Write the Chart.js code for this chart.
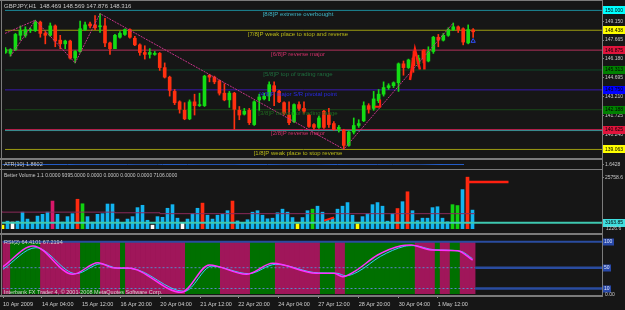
<!DOCTYPE html>
<html>
<head>
<meta charset="utf-8">
<title>GBPJPY,H1</title>
<script src="https://cdn.jsdelivr.net/npm/chart.js@4.4.1/dist/chart.umd.min.js"></script>
<style>
  body { margin:0; width:625px; height:310px; background:#161616; position:relative; overflow:hidden; }
  canvas { position:absolute; left:0; }
  .sep { position:absolute; background:#7b7b7b; }
</style>
</head>
<body>
<canvas id="priceChart" width="625" height="158" style="top:0px"></canvas>
<canvas id="atrChart" width="625" height="9" style="top:160px"></canvas>
<canvas id="volumeChart" width="625" height="63" style="top:170px"></canvas>
<canvas id="rsiChart" width="625" height="75" style="top:235px"></canvas>
<div class="sep" style="left:0;top:0;width:603px;height:1px"></div>
<div class="sep" style="left:1px;top:0;width:1px;height:297px"></div>
<div class="sep" style="left:602px;top:0;width:1px;height:297px"></div>
<div class="sep" style="left:0;top:158px;width:603px;height:2px"></div>
<div class="sep" style="left:0;top:169px;width:603px;height:1px"></div>
<div class="sep" style="left:0;top:233px;width:603px;height:2px"></div>
<div class="sep" style="left:0;top:295px;width:603px;height:2px"></div>
<script>
// ---- candles, one per slot ----
const priceOpen = [146.69,146.62,146.92,148.04,148.04,148.41,148.41,149.08,148.19,148.04,
  148.78,147.66,147.37,147.59,146.25,146.77,148.49,148.93,148.86,148.71,
  148.78,147.44,146.99,147.89,148.11,148.49,147.81,147.29,146.69,146.54,
  146.54,146.62,145.50,144.75,143.63,142.81,142.14,141.47,142.81,142.51,
  142.51,144.90,144.75,144.46,143.49,142.96,143.49,142.14,141.84,142.14,
  141.02,142.96,143.04,143.26,144.08,143.63,142.74,141.77,141.25,142.59,
  142.29,141.77,141.02,140.80,142.07,141.77,141.10,140.65,140.57,139.38,
  140.43,140.95,141.32,142.51,142.29,142.89,143.41,143.93,144.08,144.31,
  145.80,145.50,146.25,145.80,146.84,146.02,146.77,147.89,147.66,148.04,
  148.49,148.71,148.56,147.44,148.469];
const priceClose = [146.92,146.92,148.11,148.41,148.49,148.49,149.08,148.19,148.04,148.78,
  147.59,147.37,147.59,146.25,146.77,148.56,148.86,148.78,148.63,148.78,
  147.44,146.99,148.04,148.19,148.49,147.89,147.29,146.69,146.54,146.69,
  146.62,145.50,144.75,143.71,142.74,142.22,141.47,142.81,142.51,142.59,
  144.83,144.75,144.38,143.49,142.96,143.49,142.22,141.77,142.07,141.17,
  142.81,143.19,143.26,144.16,143.63,142.81,141.92,141.17,142.59,142.29,
  142.07,140.87,140.80,141.54,140.80,141.02,140.65,140.80,139.38,140.43,
  140.95,141.10,142.51,142.22,143.04,143.41,143.93,144.08,144.31,145.80,
  145.50,146.10,145.65,146.25,146.17,146.77,147.89,147.66,148.04,148.49,
  148.71,148.49,147.51,148.49,148.316];
const priceHigh = [147.07,146.99,148.19,148.78,148.71,148.63,149.23,149.16,148.34,149.01,
  148.86,148.04,147.66,147.66,146.84,149.16,149.08,149.08,149.60,149.75,
  149.38,147.51,148.11,148.34,148.56,148.56,147.96,147.37,147.22,146.99,
  146.77,146.69,145.87,144.83,143.78,142.89,142.74,142.96,143.41,143.49,
  144.90,144.98,144.83,144.53,144.23,143.63,143.56,142.44,142.29,142.29,
  142.89,143.41,143.49,144.38,144.38,143.71,142.81,142.81,142.66,142.81,
  142.81,141.84,141.10,141.69,142.14,142.29,141.25,140.95,140.65,140.50,
  141.54,141.40,142.81,142.66,143.63,143.78,144.38,144.23,144.38,145.87,
  146.02,146.17,146.77,146.47,146.92,147.14,147.96,148.11,148.19,148.63,
  149.01,148.78,148.63,148.86,148.569];
const priceLow = [146.62,146.40,146.84,147.66,147.89,148.26,148.34,147.89,147.37,147.96,
  147.14,146.99,146.99,146.17,145.87,146.69,148.41,148.63,148.49,148.26,
  147.14,146.54,146.99,147.81,148.04,147.81,147.22,146.47,146.17,146.25,
  146.47,145.28,144.68,143.26,142.59,141.92,141.40,141.40,141.77,142.44,
  142.44,144.38,144.23,143.34,142.89,142.37,140.65,141.40,141.77,141.02,
  140.95,142.14,142.96,142.89,142.51,142.74,141.77,141.02,141.17,142.14,
  141.92,140.80,140.65,140.72,140.72,140.80,140.57,140.43,139.08,139.31,
  140.28,140.80,141.25,141.92,142.14,142.74,143.26,143.78,143.93,143.63,
  144.90,145.43,145.13,145.57,145.87,145.95,146.62,147.14,147.59,147.96,
  148.41,148.26,147.29,147.37,147.876];

const chartTitle = 'GBPJPY,H1  148.469 148.569 147.876 148.316';
const priceTicks = [149.150, 147.665, 146.180, 144.695, 143.210, 141.725, 140.240];

// murrey math levels
const murreyLevels = [150.000, 148.438, 146.875, 145.313, 143.750, 142.188, 140.625, 139.063];
const murreyNames = ['[8/8]P extreme overbought', '[7/8]P weak place to stop and reverse',
  '[6/8]P reverse major', '[5/8]P top of trading range', '[4/8]P major S/R pivotal point',
  '[3/8]P bottom of trading range', '[2/8]P reverse major', '[1/8]P weak place to stop reverse'];
const murreyLineColor = ['#1c8a9a','#9c9c10','#b0305a','#0e4a2a','#3a1ab0','#1a4a1a','#c02050','#9c9c10'];
const murreyTextColor = ['#3fb4c4','#b8b818','#d0306a','#1e6e3e','#2a2ae8','#1f6a1f','#d0306a','#b8b818'];
const murreyBoxColor = ['#00ffff','#ffff00','#e0143c','#008000','#0000ff','#008000','#e0143c','#ffff00'];

// zigzag turning points
const zigzagX = [1, 6, 14, 19, 68, 90];
const zigzagY = [146.40, 149.23, 145.87, 149.75, 139.08, 149.01];
const zigLeadX = [-0.1, 6];
const zigLeadY = [148.19, 149.23];

// red drawn marks
const markAX = [81.3, 82.3, 83.3];
const markAY = [144.53, 146.92, 145.35];
const markBX = [84.2, 84.2];
const markBY = [146.92, 145.35];
const markCX = [74.2, 75.3, 75.3];
const markCY = [142.42, 142.42, 142.99];

// ATR(10)
const atrX = [0, 8.3, 13, 14.7, 25, 26.7, 31, 32, 37, 39.7, 46.3, 47.7, 53, 56.3, 62.7, 67, 69.7, 75, 78, 83.7, 88.3, 92.3];
const atrY = [1.72, 1.64, 1.64, 1.78, 1.78, 1.86, 1.86, 1.72, 1.72, 1.78, 1.78, 1.70, 1.70, 1.83, 1.83, 1.70, 1.78, 1.78, 1.83, 1.91, 1.64, 1.64];

// Better Volume
const volume = [1926,3898,3450,3898,8378,4928,3136,6406,7302,8378,
  13888,7302,3450,6138,7616,14784,12544,6138,3450,7302,
  7616,12410,12410,4928,3136,4928,6138,10618,11782,4346,
  1926,6138,5824,10304,12096,5376,3136,4928,7616,10304,
  12858,6854,4928,6854,7302,9094,13888,4032,3136,4614,
  8378,9094,6854,5062,5376,8064,9856,8378,5690,2688,
  5690,9094,9856,11334,8378,4614,5376,9856,11334,13126,
  6854,2688,6138,7616,12096,13126,11334,3898,7616,10170,
  13574,18502,9094,4166,5376,5376,10618,11066,5376,3584,
  12096,11648,19578,25758.6,9395];
const volRed = [15, 40, 46, 79, 81, 93];
const volGreen = [16, 62, 90, 91];
const volWhite = [2, 30, 36];
const volYellow = [0, 59, 71];
const volMagenta = [10];
const volMaX = [-0.1, 22.5, 31.5, 61.5, 94.5];
const volMaY = [8830, 8380, 8060, 7620, 7620];
const volLevel = 3163.85;
const climaxX = [93, 101.2];
const climaxY = [23296, 23296];
const volMarkX = [64.3, 66.3];
const volMarkY = [4166, 5690];

// RSI(2)
const rsiZonesGreen = [[2,7],[16,19],[24,24],[37,43],[50,54],[64,66],[69,82],[87,87],[90,91]];
const rsiMainX = [0, 6, 14, 19, 22.3, 25, 35.7, 41.3, 48.7, 54, 62.7, 66.3, 68, 70.3, 75, 79.7, 81.7, 85.7, 91, 94];
const rsiMainY = [51.9, 91.7, 37.3, 59.6, 49.4, 49.4, 2.7, 55.2, 37.3, 58.5, 39.2, 39.2, 32.7, 42.3, 74.4, 92.3, 93.7, 84.0, 82.7, 64.4];
const rsiSignalX = [0, 6.6, 14.6, 19.6, 23, 25.6, 36.3, 41.8, 49.2, 54.6, 63.2, 66.8, 68.6, 71, 75.6, 80.3, 82.2, 86.3, 91.5, 94];
const rsiSignalY = [47, 88.5, 38.5, 57.5, 49.0, 48.5, 4.5, 53, 38.5, 56.5, 40, 39.5, 34.5, 42, 72, 91, 92.5, 84.5, 82, 67.2];
const rsiLevels = [100, 50, 10];

const timeTickX = [0, 7.8, 15.8, 23.5, 31.5, 39.5, 47.1, 55.1, 63.1, 71.2, 79.2, 87.0];
const timeLabels = ['10 Apr 2009','14 Apr 04:00','15 Apr 12:00','16 Apr 20:00','20 Apr 04:00','21 Apr 12:00',
  '22 Apr 20:00','24 Apr 04:00','27 Apr 12:00','28 Apr 20:00','30 Apr 04:00','1 May 12:00'];

// ---------------------------------------------------------------
const X_MIN = -0.1, X_MAX = 119.9;
const BULL = '#14dc14', BEAR = '#ff3010';
const FONT = '"Liberation Sans", Arial, sans-serif';
Chart.defaults.font.family = FONT;

function xy(xs, ys) { return xs.map((x, i) => ({x: x, y: ys[i]})); }
function flat(v, x0, x1) { return [{x: x0, y: v}, {x: x1, y: v}]; }
function lineSet(data, color, width, order, extra) {
  return Object.assign({type: 'line', data: data, borderColor: color, borderWidth: width,
    pointRadius: 0, tension: 0, fill: false, order: order}, extra || {});
}
function rightAxis(min, max, tickVals, fmt) {
  return {
    position: 'right', min: min, max: max,
    afterFit: s => { s.width = 23; },
    afterBuildTicks: s => { s.ticks = tickVals.map(v => ({value: v})); },
    ticks: { display: tickVals.length > 0, color: '#c8c8c8', font: {size: 5}, padding: 1, callback: fmt },
    grid: { drawOnChartArea: false, color: '#7b7b7b', tickLength: 2 },
    border: { display: false }
  };
}
function baseOptions(yAxis, pad) {
  return {
    responsive: false, animation: false, devicePixelRatio: 1,
    layout: { padding: pad },
    plugins: { legend: {display: false}, tooltip: {enabled: false} },
    scales: {
      x: { type: 'linear', min: X_MIN, max: X_MAX, offset: false, display: false },
      y: yAxis
    }
  };
}

// price panel
const slots = priceOpen.map((_, i) => i);
const candleColor = slots.map(i => priceClose[i] >= priceOpen[i] ? BULL : BEAR);

const priceText = {
  id: 'priceText',
  afterDatasetsDraw(chart) {
    const ctx = chart.ctx, y = chart.scales.y;
    ctx.save();
    ctx.textBaseline = 'middle';
    ctx.font = '6px ' + FONT;
    ctx.textAlign = 'left';
    ctx.fillStyle = '#c8c8c8';
    ctx.fillText(chartTitle, 4, 6);
    murreyLevels.forEach((lv, i) => {
      const py = y.getPixelForValue(lv);
      ctx.font = '6px ' + FONT;
      ctx.textAlign = 'center';
      ctx.fillStyle = murreyTextColor[i];
      ctx.fillText(murreyNames[i], 298, Math.min(py + 4, 155.5));
      ctx.fillStyle = murreyBoxColor[i];
      ctx.fillRect(603, Math.round(py) - 4, 22, 8);
      ctx.font = '5px ' + FONT;
      ctx.textAlign = 'left';
      ctx.fillStyle = '#000';
      ctx.fillText(lv.toFixed(3), 605, py);
    });
    ctx.restore();
  }
};

const priceDatasets = murreyLevels.map((lv, i) => lineSet(flat(lv, X_MIN, X_MAX), murreyLineColor[i], 1, 20));
priceDatasets.push(lineSet(flat(140.55, X_MIN, X_MAX), '#2e9c9c', 1, 20));
priceDatasets.push({ type: 'bar', data: slots.map(i => ({x: i, y: [priceLow[i], priceHigh[i]]})),
  backgroundColor: candleColor, barThickness: 1, grouped: false, order: 12 });
priceDatasets.push({ type: 'bar', data: slots.map(i => ({x: i, y: [priceOpen[i], priceClose[i]]})),
  backgroundColor: candleColor, barThickness: 3, grouped: false, minBarLength: 1, order: 11 });
priceDatasets.push(lineSet(xy(zigzagX, zigzagY), '#c8348a', 1, 5, {borderDash: [2, 1]}));
priceDatasets.push(lineSet(xy(zigLeadX, zigLeadY), '#c8348a', 1, 5, {borderDash: [2, 1]}));
priceDatasets.push(lineSet(xy(markAX, markAY), '#ff2010', 2.5, 2));
priceDatasets.push(lineSet(xy(markBX, markBY), '#ff2010', 2.5, 2));
priceDatasets.push(lineSet(xy(markCX, markCY), '#ff2010', 2, 2));
priceDatasets.push({ type: 'line', data: [{x: 94, y: 147.59}], showLine: false, pointStyle: 'triangle',
  pointRadius: 2.5, pointBorderColor: '#3050ff', pointBackgroundColor: 'rgba(0,0,0,0)', pointBorderWidth: 1, order: 1 });

new Chart(document.getElementById('priceChart'), {
  type: 'bar',
  data: { datasets: priceDatasets },
  options: baseOptions(rightAxis(138.784, 150.425, priceTicks, v => v.toFixed(3)), {left: 2, top: 1, bottom: 1, right: 0}),
  plugins: [priceText]
});

// ATR panel
const atrText = {
  id: 'atrText',
  afterDatasetsDraw(chart) {
    const ctx = chart.ctx;
    ctx.save();
    ctx.font = '5.5px ' + FONT;
    ctx.textBaseline = 'middle';
    ctx.fillStyle = '#c8c8c8';
    ctx.fillText('ATR(10) 1.8602', 4, 4.5);
    ctx.restore();
  }
};
new Chart(document.getElementById('atrChart'), {
  type: 'line',
  data: { datasets: [lineSet(xy(atrX, atrY), '#2460d0', 1, 1)] },
  options: baseOptions(rightAxis(1.3228, 2.0428, [1.6428], v => v.toFixed(4)), {left: 2, top: 0, bottom: 0, right: 0}),
  plugins: [atrText]
});

// volume panel
const volColor = volume.map((v, i) =>
  volRed.includes(i) ? '#ff2a10' :
  volGreen.includes(i) ? '#10d010' :
  volWhite.includes(i) ? '#ffffff' :
  volYellow.includes(i) ? '#ffff00' :
  volMagenta.includes(i) ? '#d8186a' : '#12b4f0');

const volText = {
  id: 'volText',
  afterDatasetsDraw(chart) {
    const ctx = chart.ctx, y = chart.scales.y;
    ctx.save();
    ctx.textBaseline = 'middle';
    ctx.font = '5px ' + FONT;
    ctx.fillStyle = '#c8c8c8';
    ctx.fillText('Better Volume 1.1 0.0000 9395.0000 0.0000 0.0000 0.0000 0.0000 7106.0000', 4, 5.5);
    const py = y.getPixelForValue(volLevel);
    ctx.fillStyle = '#40e0e0';
    ctx.fillRect(603, Math.round(py) - 4, 22, 8);
    ctx.fillStyle = '#000';
    ctx.fillText(volLevel.toFixed(2), 605, py);
    ctx.fillStyle = '#c8c8c8';
    ctx.fillText('1226.6', 606, y.getPixelForValue(1226.6) + 2);
    ctx.restore();
  }
};
new Chart(document.getElementById('volumeChart'), {
  type: 'bar',
  data: { datasets: [
    { type: 'bar', data: volume.map((v, i) => ({x: i, y: v})), backgroundColor: volColor,
      barThickness: 3, grouped: false, order: 10 },
    lineSet(xy(volMaX, volMaY), '#8b2a5a', 1, 4, {stepped: 'after'}),
    lineSet(flat(volLevel, X_MIN, X_MAX), '#3ec8b0', 2, 3),
    lineSet(xy(climaxX, climaxY), '#ff2010', 2.5, 2),
    lineSet(xy(volMarkX, volMarkY), '#ff2010', 2, 2)
  ]},
  options: baseOptions(rightAxis(0, 27328, [25758.6], () => '25758.6'), {left: 2, top: 1, bottom: 1, right: 0}),
  plugins: [volText]
});

// RSI panel
const zoneColor = slots.map(i => rsiZonesGreen.some(r => i >= r[0] && i <= r[1]) ? '#007000' : '#a0165a');
const rsiText = {
  id: 'rsiText',
  afterDatasetsDraw(chart) {
    const ctx = chart.ctx, y = chart.scales.y;
    ctx.save();
    ctx.textBaseline = 'middle';
    ctx.font = '5.5px ' + FONT;
    ctx.fillStyle = '#d0d0d0';
    ctx.fillText('RSI(2) 64.4101 67.2194', 4, 7.5);
    ctx.fillText('Interbank FX Trader 4, \u00a9 2001-2008 MetaQuotes Software Corp.', 4, 57);
    ctx.font = '5px ' + FONT;
    rsiLevels.forEach(lv => {
      const py = y.getPixelForValue(lv);
      ctx.fillStyle = '#2848a8';
      ctx.fillRect(603, Math.round(py) - 3.5, lv === 100 ? 11 : 8, 7);
      ctx.fillStyle = '#dfe6ff';
      ctx.fillText(String(lv), 604, py);
    });
    ctx.fillStyle = '#c8c8c8';
    ctx.fillText('0.00', 605, y.getPixelForValue(0) + 1);
    ctx.restore();
  }
};
const rsiDatasets = [
  { type: 'bar', data: slots.map(i => ({x: i, y: [0, 100]})), backgroundColor: zoneColor,
    barThickness: 5, grouped: false, order: 20 },
  lineSet(flat(100, X_MIN, X_MAX), '#2a4ca0', 2, 8),
  lineSet(flat(50, X_MIN, 94.5), '#5a86c8', 1, 8, {borderDash: [2, 2]}),
  lineSet(flat(10, X_MIN, 94.5), '#5a86c8', 1, 8, {borderDash: [2, 2]}),
  lineSet(flat(50, 94.5, X_MAX), '#2a4ca0', 2.5, 8),
  lineSet(flat(10, 94.5, X_MAX), '#2a4ca0', 2.5, 8),
  lineSet(xy(rsiSignalX, rsiSignalY), '#38c8ff', 1, 3, {cubicInterpolationMode: 'monotone'}),
  lineSet(xy(rsiMainX, rsiMainY), '#ff30ff', 1.5, 2, {cubicInterpolationMode: 'monotone'})
];
const rsiOptions = baseOptions({
  position: 'right', min: -2.5, max: 109.04,
  afterFit: s => { s.width = 23; },
  ticks: { display: false }, grid: { display: false }, border: { display: false }
}, {left: 2, top: 2, bottom: 0, right: 0});
rsiOptions.scales.x = {
  type: 'linear', min: X_MIN, max: X_MAX, offset: false, position: 'bottom',
  afterFit: s => { s.height = 15; },
  afterBuildTicks: s => { s.ticks = timeTickX.map(v => ({value: v})); },
  ticks: { callback: (v, i) => timeLabels[i], align: 'start', autoSkip: false, maxRotation: 0, minRotation: 0,
    color: '#d0d0d0', font: {size: 5.5}, padding: 3 },
  grid: { drawOnChartArea: false, drawTicks: true, tickLength: 3, color: '#9a9a9a', offset: false },
  border: { display: false }
};
new Chart(document.getElementById('rsiChart'), {
  type: 'bar',
  data: { datasets: rsiDatasets },
  options: rsiOptions,
  plugins: [rsiText]
});
</script>
</body>
</html>
